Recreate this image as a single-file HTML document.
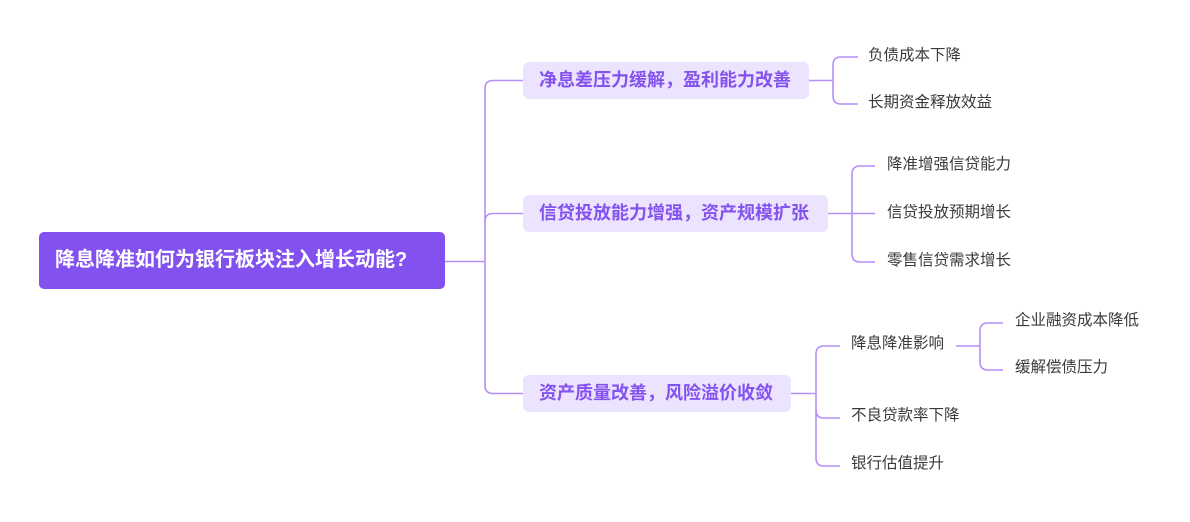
<!DOCTYPE html>
<html>
<head>
<meta charset="utf-8">
<style>
  html,body{margin:0;padding:0;background:#fff;}
  body{width:1190px;height:522px;position:relative;overflow:hidden;font-family:"Liberation Sans","Noto Sans CJK SC",sans-serif;}
  svg{position:absolute;left:0;top:0;}
  .root{position:absolute;left:39px;top:232px;width:406px;height:57px;background:#8251F0;border-radius:5px;box-sizing:border-box;}
  .root span{position:absolute;left:16px;top:0;line-height:57px;font-size:20px;font-weight:bold;color:#fff;white-space:nowrap;}
  .br{position:absolute;background:#ECE3FE;border-radius:6px;}
  .br span{position:absolute;left:16px;top:0;font-size:18px;font-weight:bold;color:#8452EE;white-space:nowrap;}
  .lf{position:absolute;font-size:15.5px;color:#3a3a3a;white-space:nowrap;line-height:20px;}
</style>
</head>
<body>
<svg width="1190" height="522" viewBox="0 0 1190 522">
  <g fill="none" stroke="#B690F7" stroke-width="1.6">
    <path d="M445,261.5 H485"/>
    <path d="M523,80.5 H493 Q485,80.5 485,88.5 V385.5 Q485,393.5 493,393.5 H523"/>
    <path d="M485,221.5 Q485,213.5 493,213.5 H523"/>
    <!-- branch 1 -->
    <path d="M809,80.5 H833"/>
    <path d="M858,57 H841 Q833,57 833,65 V96 Q833,104 841,104 H858"/>
    <!-- branch 2 -->
    <path d="M828,213.5 H875"/>
    <path d="M875,166 H860 Q852,166 852,174 V254 Q852,262 860,262 H875"/>
    <!-- branch 3 -->
    <path d="M791,393.5 H816"/>
    <path d="M840,346 H824 Q816,346 816,354 V458 Q816,466 824,466 H840"/>
    <path d="M816,410 Q816,418 824,418 H840"/>
    <!-- sub -->
    <path d="M956,346 H980"/>
    <path d="M1003,323 H988 Q980,323 980,331 V362 Q980,370 988,370 H1003"/>
  </g>
</svg>

<div class="root"><span>降息降准如何为银行板块注入增长动能?</span></div>

<div class="br" style="left:523px;top:62px;width:286px;height:37px;"><span style="line-height:37px;">净息差压力缓解，盈利能力改善</span></div>
<div class="br" style="left:523px;top:195px;width:305px;height:37px;"><span style="line-height:37px;">信贷投放能力增强，资产规模扩张</span></div>
<div class="br" style="left:523px;top:375px;width:268px;height:37px;"><span style="line-height:37px;">资产质量改善，风险溢价收敛</span></div>

<div class="lf" style="left:868px;top:46px;">负债成本下降</div>
<div class="lf" style="left:868px;top:93px;">长期资金释放效益</div>

<div class="lf" style="left:887px;top:155px;">降准增强信贷能力</div>
<div class="lf" style="left:887px;top:203px;">信贷投放预期增长</div>
<div class="lf" style="left:887px;top:251px;">零售信贷需求增长</div>

<div class="lf" style="left:851px;top:334px;">降息降准影响</div>
<div class="lf" style="left:851px;top:406px;">不良贷款率下降</div>
<div class="lf" style="left:851px;top:454px;">银行估值提升</div>

<div class="lf" style="left:1015px;top:311px;">企业融资成本降低</div>
<div class="lf" style="left:1015px;top:358px;">缓解偿债压力</div>
</body>
</html>
